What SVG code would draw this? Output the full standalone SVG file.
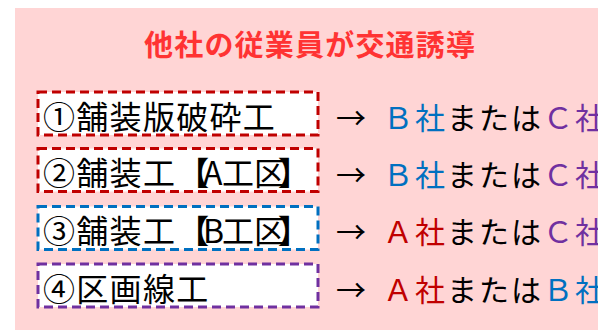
<svg xmlns="http://www.w3.org/2000/svg" width="604" height="330" viewBox="0 0 604 330">
<defs>
<clipPath id="panel"><rect x="15" y="8" width="583" height="322"/></clipPath>
<style>
.bg{fill:#FFD5D5}
.box{fill:#FFFFFF;stroke-width:3;stroke-dasharray:9 5}
.red{stroke:#C00000}
.blue{stroke:#0070C0}
.purple{stroke:#7030A0}
.title{font-family:"Noto Sans CJK JP",sans-serif;font-size:29px;font-weight:bold;fill:#FF3333}
.lbl{font-family:"Noto Sans CJK JP",sans-serif;font-size:32px;fill:#000000;letter-spacing:1.3px}
.arr{font-family:"Noto Sans CJK JP",sans-serif;font-size:30px;fill:#000000}
.res{font-family:"Noto Sans CJK JP",sans-serif;font-size:30px;fill:#000000;letter-spacing:2px}
.br{font-weight:bold}
.cA{fill:#C00000}
.cB{fill:#0070C0}
.cC{fill:#7030A0}
</style>
</defs>
<rect class="bg" x="15" y="8" width="583" height="322"/>
<g clip-path="url(#panel)">
<text class="title" x="144" y="56" textLength="331" lengthAdjust="spacing">他社の従業員が交通誘導</text>

<g id="node1">
<rect class="box red" x="38" y="92" width="280" height="43"/>
<text class="lbl" x="43" y="128.5">①舗装版破砕工</text>
</g>
<g id="node2">
<rect class="box red" x="38" y="148.5" width="280" height="43"/>
<text class="lbl" x="43" y="185">②舗装工<tspan class="br" x="177">【</tspan><tspan x="203">A</tspan><tspan x="222">工</tspan><tspan x="254">区</tspan><tspan class="br" x="278">】</tspan></text>
</g>
<g id="node3">
<rect class="box blue" x="38" y="206.5" width="280" height="43"/>
<text class="lbl" x="43" y="243">③舗装工<tspan class="br" x="177">【</tspan><tspan x="203">B</tspan><tspan x="222">工</tspan><tspan x="254">区</tspan><tspan class="br" x="278">】</tspan></text>
</g>
<g id="node4">
<rect class="box purple" x="38" y="264" width="280" height="43"/>
<text class="lbl" x="43" y="300.5">④区画線工</text>
</g>

<g id="connectors">
<text class="arr" x="336" y="129">→</text>
<text class="arr" x="336" y="185.5">→</text>
<text class="arr" x="336" y="243">→</text>
<text class="arr" x="336" y="300.5">→</text>
</g>

<g id="results">
<text class="res" x="383" y="129"><tspan class="cB">Ｂ社</tspan>または<tspan class="cC">Ｃ社</tspan></text>
<text class="res" x="383" y="185.5"><tspan class="cB">Ｂ社</tspan>または<tspan class="cC">Ｃ社</tspan></text>
<text class="res" x="383" y="243"><tspan class="cA">Ａ社</tspan>または<tspan class="cC">Ｃ社</tspan></text>
<text class="res" x="383" y="300.5"><tspan class="cA">Ａ社</tspan>または<tspan class="cB">Ｂ社</tspan></text>
</g>
</g>
</svg>
